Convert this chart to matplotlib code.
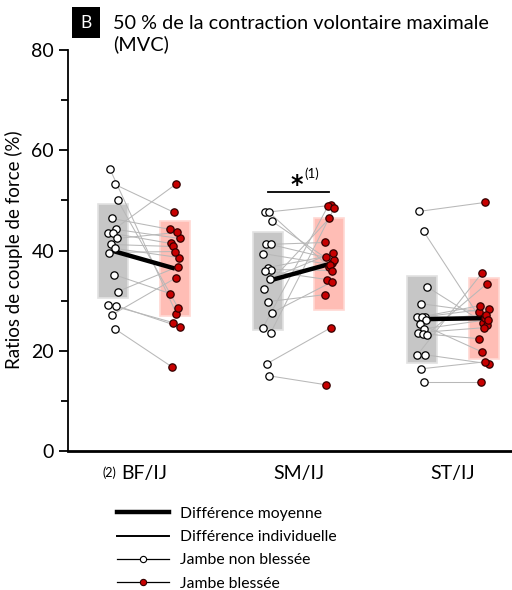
import matplotlib
matplotlib.use("Agg")
import matplotlib.pyplot as plt
from matplotlib.lines import Line2D
from matplotlib.patches import Rectangle
from matplotlib.ticker import MultipleLocator
import numpy as np

plt.rcParams['font.family'] = ['Lato', 'DejaVu Sans']

categories = ["BF/IJ", "SM/IJ", "ST/IJ"]

# Paired values (non-injured -> injured), in %
bf_non_injured = [56.2, 53.2, 50.0, 46.4, 44.2, 43.4, 43.4, 42.4, 41.2, 40.4, 39.6, 35.2, 31.8, 29.2, 29.0, 27.2, 24.4]
bf_injured     = [27.4, 47.6, 28.6, 44.2, 42.4, 53.2, 41.4, 43.6, 40.8, 38.6, 39.8, 31.4, 36.8, 25.6, 24.8, 34.6, 16.8]
sm_non_injured = [47.6, 47.6, 45.8, 41.2, 41.2, 39.4, 36.6, 36.2, 36.0, 34.4, 32.4, 29.8, 27.6, 24.6, 23.6, 17.4, 15.0]
sm_injured     = [49.0, 36.8, 37.6, 41.6, 38.2, 37.2, 38.8, 36.0, 34.2, 39.6, 46.4, 31.2, 33.8, 48.8, 48.4, 24.6, 13.2]
st_non_injured = [47.8, 43.8, 32.8, 29.4, 26.8, 26.8, 26.8, 26.2, 25.4, 24.4, 23.6, 23.4, 23.2, 19.2, 19.2, 16.4, 13.8]
st_injured     = [49.6, 25.6, 25.2, 27.8, 28.4, 26.6, 29.0, 27.2, 19.8, 26.2, 24.6, 22.4, 33.4, 35.6, 17.4, 17.8, 13.8]

# Mean and SD (boxes = mean ± SD)
mean_non_injured = [39.9, 33.9, 26.3]
sd_non_injured   = [9.3, 9.7, 8.7]
mean_injured     = [36.4, 37.3, 26.5]
sd_injured       = [9.4, 9.1, 8.1]

title_text = "50 % de la contraction volontaire maximale\n(MVC)"
ylabel_text = "Ratios de couple de force (%)"
legend_labels = ["Différence moyenne", "Différence individuelle", "Jambe non blessée", "Jambe blessée"]

non_inj = [bf_non_injured, sm_non_injured, st_non_injured]
inj = [bf_injured, sm_injured, st_injured]

fig = plt.figure(figsize=(5.12, 5.90), dpi=100)
ax = fig.add_axes([68/512, 1 - 451/590, 444/512, 401/590])

off = 0.2
bw = 0.194
jit = np.array([-0.02, 0.01, 0.03, -0.01, 0.02, -0.03, 0.0, 0.025, -0.015, 0.015, -0.025, 0.005, 0.03, -0.03, 0.02, -0.005, 0.01])

for i in range(3):
    xw = i - off
    xr = i + off
    m0, s0 = mean_non_injured[i], sd_non_injured[i]
    m1, s1 = mean_injured[i], sd_injured[i]
    ax.add_patch(Rectangle((xw - bw/2, m0 - s0), bw, 2*s0, facecolor="#c6c6c6",
                           edgecolor="#e2e2e2", lw=1.2, zorder=1))
    ax.add_patch(Rectangle((xr - bw/2, m1 - s1), bw, 2*s1, facecolor="#ffbdb5",
                           edgecolor="#ffd8d3", lw=1.2, zorder=1))
    a = np.array(non_inj[i]); b = np.array(inj[i])
    n = len(a)
    xa = xw + jit[:n]
    xb = xr + jit[::-1][:n]
    for k in range(n):
        ax.plot([xa[k], xb[k]], [a[k], b[k]], color="#b8b8b8", lw=0.75, zorder=2)
    ax.plot([xw, xr], [m0, m1], color="black", lw=3.2, zorder=3, solid_capstyle="butt")
    ax.scatter(xa, a, s=28, facecolor="white", edgecolor="black", lw=0.9, zorder=4)
    ax.scatter(xb, b, s=28, facecolor="#c80000", edgecolor="#330000", lw=0.9, zorder=4)

# significance
ax.plot([1 - off, 1 + off], [51.6, 51.6], color="black", lw=1.3)
ax.text(0.99, 50.6, "*", ha="center", va="bottom", fontsize=17, fontweight="bold",
        family="DejaVu Sans")
ax.text(1.04, 55.4, "(1)", ha="left", va="center", fontsize=9.5)

ax.set_xlim((68 - 144) / 154.5, (512 - 144) / 154.5)
ax.set_ylim(0, 80)
ax.set_yticks([0, 20, 40, 60, 80])
ax.yaxis.set_minor_locator(MultipleLocator(10))
ax.tick_params(axis="y", which="major", labelsize=14, length=6.5, width=1.3, direction="out", pad=3.5)
ax.tick_params(axis="y", which="minor", length=5, width=1.3, direction="out")
ax.set_xticks([0, 1, 2])
ax.set_xticklabels(categories)
ax.tick_params(axis="x", labelsize=14, length=0, pad=10)
ax.text(-0.27, -3.0, "(2)", ha="left", va="top", fontsize=9)
for s in ["top", "right"]:
    ax.spines[s].set_visible(False)
ax.spines["left"].set_linewidth(1.3)
ax.spines["bottom"].set_linewidth(2.0)
fig.text(14/512, 1 - 250/590, ylabel_text, rotation=90, ha="center", va="center", fontsize=13.5)

# title with "B" box
fig.add_artist(Rectangle((72/512, 1 - 38/590), 28/512, 31/590, transform=fig.transFigure,
                         facecolor="black", edgecolor="none"))
fig.text(86/512, 1 - 23/590, "B", ha="center", va="center", fontsize=12.5, color="white")
fig.text(113/512, 0.974, title_text, ha="left", va="top", fontsize=14.3, linespacing=1.22)

handles = [
    Line2D([], [], color="black", lw=3.2),
    Line2D([], [], color="black", lw=1.4),
    Line2D([], [], color="black", lw=0.9, marker="o", markersize=4.5,
           markerfacecolor="white", markeredgecolor="black", markeredgewidth=0.8),
    Line2D([], [], color="black", lw=0.9, marker="o", markersize=4.5,
           markerfacecolor="#c80000", markeredgecolor="#330000", markeredgewidth=0.8),
]
fig.legend(handles, legend_labels, loc="upper left", bbox_to_anchor=(0.216, 0.152),
           frameon=False, fontsize=11.3, handlelength=3.3, handletextpad=0.75,
           labelspacing=0.6, borderaxespad=0)

fig.savefig("out.png", dpi=100)
